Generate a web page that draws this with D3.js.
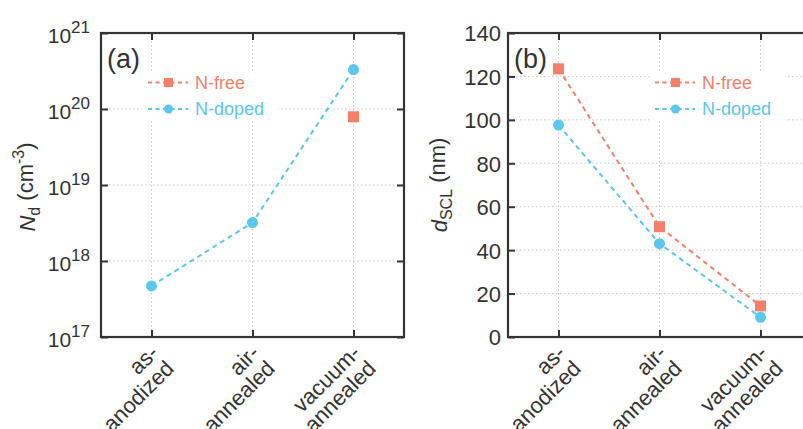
<!DOCTYPE html>
<html>
<head>
<meta charset="utf-8">
<script src="https://cdn.jsdelivr.net/npm/d3@7"></script>
<style>
  body { margin: 0; background: #fff; }
  svg { font-family: "Liberation Sans", Arial, sans-serif; }
</style>
</head>
<body>
<div id="chart"></div>
<script>
const categories = [["as-", "anodized"], ["air-", "annealed"], ["vacuum-", "annealed"]];

// panel (a): donor density, cm^-3
const ndNfree = [null, null, 7.9e19];
const ndNdoped = [4.7e17, 3.2e18, 3.3e20];
const ndTicks = [17, 18, 19, 20, 21];

// panel (b): space charge layer width, nm
const dNfree = [123.5, 50.8, 14.3];
const dNdoped = [97.6, 43, 9.1];
const dTicks = [0, 20, 40, 60, 80, 100, 120, 140];

const seriesNames = ["N-free", "N-doped"];

const width = 803;
const height = 429;
const orange = "#f4806a";
const blue = "#5bc6ee";
const ink = "#333";

const svg = d3.select('#chart')
  .append('svg')
  .attr('width', width)
  .attr('height', height)

const plotTop = 33, plotBottom = 337;

function drawPanel(opt) {
  const g = svg.append('g');
  const x = d3.scaleLinear().domain([0.5, 3.5]).range([opt.left, opt.left + 303]);
  const y = opt.y;

  // grid
  g.append('g').selectAll('line')
    .data(opt.gridY)
    .enter()
    .append('line')
    .attr('x1', opt.left).attr('x2', opt.left + 303)
    .attr('y1', d => y(d)).attr('y2', d => y(d))
    .attr('stroke', '#c8c8c8').attr('stroke-dasharray', '1.5,2.5')
  g.append('g').selectAll('line')
    .data([1, 2, 3])
    .enter()
    .append('line')
    .attr('y1', plotTop).attr('y2', plotBottom)
    .attr('x1', d => x(d)).attr('x2', d => x(d))
    .attr('stroke', '#c8c8c8').attr('stroke-dasharray', '1.5,2.5')

  // legend background
  g.append('rect')
    .attr('x', opt.legX - 6).attr('y', 71)
    .attr('width', 136).attr('height', 50)
    .attr('fill', '#fff')

  // axes (ticks inward)
  const yAxis = d3.axisLeft(y).tickValues(opt.gridY).tickSize(-7).tickPadding(opt.pad).tickSizeOuter(0);
  const yAxisR = d3.axisRight(y).tickValues(opt.gridY).tickSize(-7).tickFormat('').tickSizeOuter(0);
  const xAxis = d3.axisBottom(x).tickValues([1, 2, 3]).tickSize(-7).tickFormat('').tickSizeOuter(0);
  const xAxisT = d3.axisTop(x).tickValues([1, 2, 3]).tickSize(-7).tickFormat('').tickSizeOuter(0);

  const ya = g.append('g').attr('transform', `translate(${opt.left},0)`).call(yAxis);
  g.append('g').attr('transform', `translate(${opt.left + 303},0)`).call(yAxisR);
  g.append('g').attr('transform', `translate(0,${plotBottom})`).call(xAxis);
  g.append('g').attr('transform', `translate(0,${plotTop})`).call(xAxisT);
  g.selectAll('.domain').remove();
  g.selectAll('.tick line').attr('stroke', ink).attr('stroke-width', 2);

  ya.selectAll('.tick text')
    .attr('fill', ink)
    .style('font-size', opt.tickFont + 'px')
    .style('font-family', '"Liberation Sans", Arial, sans-serif')
  if (opt.log) {
    ya.selectAll('.tick text').each(function (d) {
      const t = d3.select(this).text('').attr('dy', '0.45em');
      t.append('tspan').text('10');
      t.append('tspan').text(Math.round(Math.log10(d))).attr('dy', '-0.6em').style('font-size', '17px');
    });
  } else {
    ya.selectAll('.tick text').attr('dy', '0.36em');
  }

  g.append('rect')
    .attr('x', opt.left).attr('y', plotTop)
    .attr('width', 303).attr('height', plotBottom - plotTop)
    .attr('fill', 'none').attr('stroke', ink).attr('stroke-width', 2.2)

  // category labels
  const cat = g.append('g').selectAll('text')
    .data(categories)
    .enter()
    .append('text')
    .attr('transform', (d, i) => `translate(${x(i + 1) - 3},${plotBottom + 6}) rotate(-45)`)
    .attr('text-anchor', 'end')
    .attr('fill', ink)
    .style('font-size', '22px')
  cat.append('tspan').attr('x', 0).attr('dy', '0.72em').text(d => d[0]);
  cat.append('tspan').attr('x', 0).attr('dy', '1.0em').text(d => d[1]);

  // y title
  const yt = g.append('text')
    .attr('transform', `translate(${opt.titleX},${opt.titleY}) rotate(-90)`)
    .attr('text-anchor', 'middle')
    .attr('fill', ink)
    .style('font-size', '22px')
  opt.title(yt);

  // panel label
  g.append('text')
    .attr('x', opt.left + 6).attr('y', 68)
    .attr('fill', ink)
    .style('font-size', '27px')
    .text(opt.label)

  // series
  const series = [
    { values: opt.nfree, color: orange, shape: 'square' },
    { values: opt.ndoped, color: blue, shape: 'circle' }
  ];
  const line = d3.line()
    .defined(d => d[1] != null)
    .x(d => x(d[0]))
    .y(d => y(d[1]));

  series.forEach((s, k) => {
    const pts = s.values.map((v, i) => [i + 1, v]);
    const valid = pts.filter(p => p[1] != null);
    if (valid.length > 1) {
      g.append('path')
        .attr('d', line(pts))
        .attr('fill', 'none')
        .attr('stroke', s.color)
        .attr('stroke-width', 2)
        .attr('stroke-dasharray', '5,4')
    }
    const m = g.append('g').selectAll('.m')
      .data(valid)
      .enter();
    if (s.shape === 'square') {
      m.append('rect')
        .attr('x', d => x(d[0]) - 5.5).attr('y', d => y(d[1]) - 5.5)
        .attr('width', 11).attr('height', 11)
        .attr('fill', s.color)
    } else {
      m.append('circle')
        .attr('cx', d => x(d[0])).attr('cy', d => y(d[1]))
        .attr('r', 5.5)
        .attr('fill', s.color)
    }

    // legend entry
    const ly = 82.5 + k * 26.5;
    const lg = g.append('g');
    lg.append('line')
      .attr('x1', opt.legX).attr('x2', opt.legX + 40)
      .attr('y1', ly).attr('y2', ly)
      .attr('stroke', s.color).attr('stroke-width', 1.8).attr('stroke-dasharray', '4,3.5')
    if (s.shape === 'square') {
      lg.append('rect').attr('x', opt.legX + 16).attr('y', ly - 4.5).attr('width', 9).attr('height', 9).attr('fill', s.color)
    } else {
      lg.append('circle').attr('cx', opt.legX + 20.5).attr('cy', ly).attr('r', 4.5).attr('fill', s.color)
    }
    lg.append('text')
      .attr('x', opt.legX + 47).attr('y', ly + 6)
      .attr('fill', s.color)
      .style('font-size', '18px')
      .text(seriesNames[k])
  });
}

drawPanel({
  left: 101,
  y: d3.scaleLog().domain([1e17, 1e21]).range([plotBottom, plotTop]),
  gridY: ndTicks.map(e => Math.pow(10, e)),
  log: true,
  tickFont: 21,
  pad: 11,
  nfree: ndNfree,
  ndoped: ndNdoped,
  legX: 148,
  label: '(a)',
  titleX: 35,
  titleY: 187,
  title: t => {
    t.append('tspan').text('N').style('font-style', 'italic');
    t.append('tspan').text('d').attr('dy', '0.3em').style('font-size', '16px');
    t.append('tspan').text(' (cm').attr('dy', '-0.3em');
    t.append('tspan').text('-3').attr('dy', '-0.55em').style('font-size', '16px');
    t.append('tspan').text(')').attr('dy', '0.4em');
  }
});

drawPanel({
  left: 508,
  y: d3.scaleLinear().domain([0, 140]).range([plotBottom, plotTop]),
  gridY: dTicks,
  log: false,
  tickFont: 22,
  pad: 7,
  nfree: dNfree,
  ndoped: dNdoped,
  legX: 655,
  label: '(b)',
  titleX: 447,
  titleY: 185,
  title: t => {
    t.append('tspan').text('d').style('font-style', 'italic');
    t.append('tspan').text('SCL').attr('dy', '0.3em').style('font-size', '16px');
    t.append('tspan').text(' (nm)').attr('dy', '-0.3em');
  }
});
</script>
</body>
</html>
